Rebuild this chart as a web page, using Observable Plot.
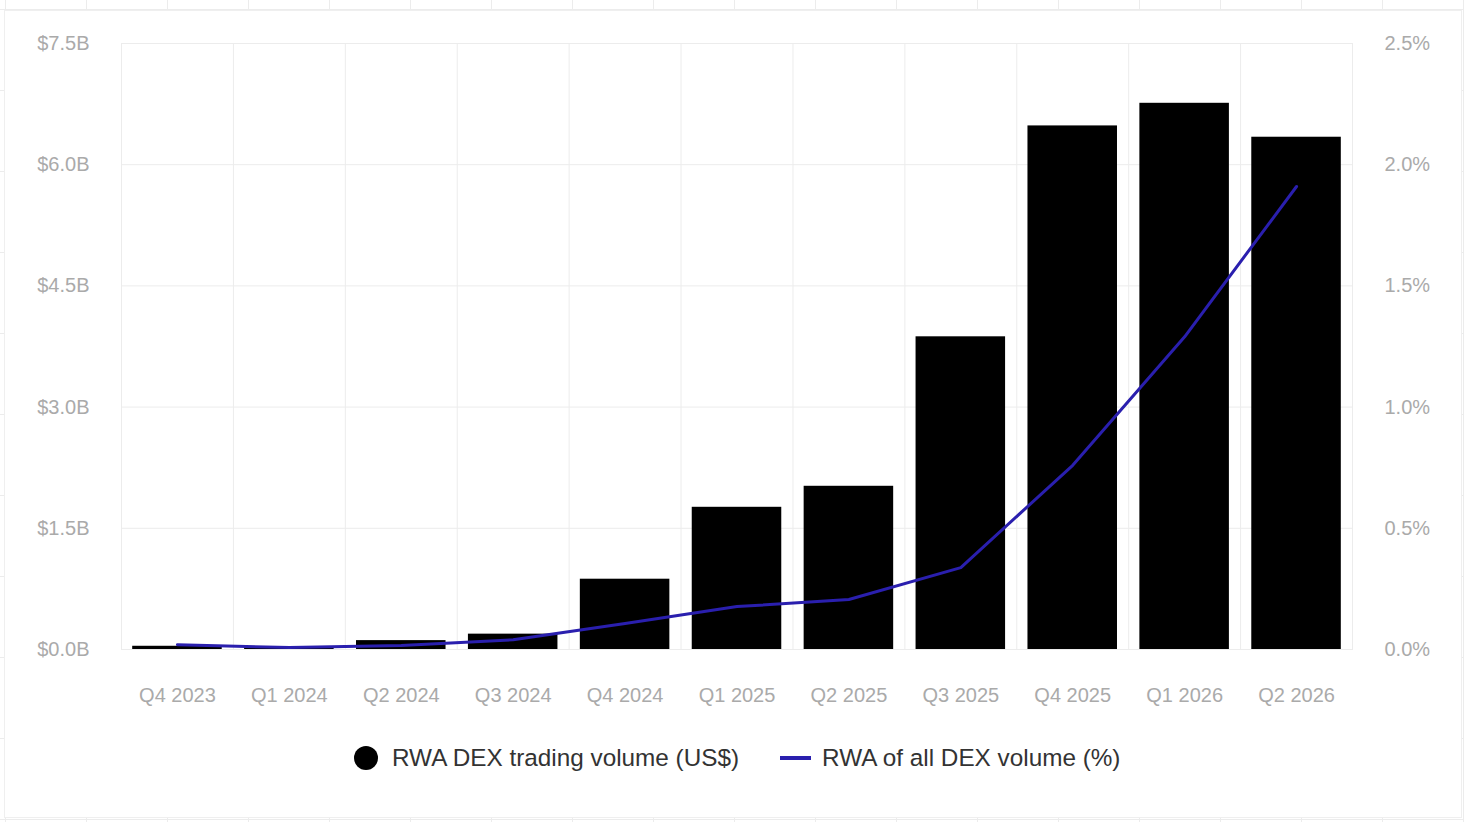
<!DOCTYPE html>
<html>
<head>
<meta charset="utf-8">
<script src="https://cdn.jsdelivr.net/npm/d3@7"></script>
<script src="https://cdn.jsdelivr.net/npm/@observablehq/plot@0.6"></script>
<style>
  html, body { margin: 0; padding: 0; }
  body {
    width: 1464px; height: 822px; position: relative; overflow: hidden;
    font-family: "Liberation Sans", Arial, Helvetica, sans-serif;
    background-color: #fff;
    background-image:
      linear-gradient(to right, #ececec 1px, transparent 1px),
      linear-gradient(to bottom, #ececec 1px, transparent 1px);
    background-size: 81px 81px;
    background-position: 5px 9px;
  }
  #card {
    position: absolute; left: 4px; top: 10px; width: 1458px; height: 808px;
    background: #fff; border: 1px solid #efefef; box-sizing: border-box;
  }
  #chart { position: absolute; left: 0; top: 0; }
  #legend {
    position: absolute; left: 354px; top: 741px; height: 34px;
    display: flex; align-items: center; font-size: 24.3px; color: #333;
    white-space: nowrap;
  }
  .dot { width: 24px; height: 24px; border-radius: 50%; background: #000; margin-right: 14px; }
  .dash { width: 31px; height: 4px; background: #2a1fae; margin-left: 41px; margin-right: 11px; }
</style>
</head>
<body>
<div id="card"></div>
<div id="chart"></div>
<div id="legend">
  <span class="dot"></span><span>RWA DEX trading volume (US$)</span>
  <span class="dash"></span><span>RWA of all DEX volume (%)</span>
</div>
<script>
const quarters = ["Q4 2023","Q1 2024","Q2 2024","Q3 2024","Q4 2024","Q1 2025","Q2 2025","Q3 2025","Q4 2025","Q1 2026","Q2 2026"];
const volumeB  = [0.04, 0.02, 0.11, 0.19, 0.87, 1.76, 2.02, 3.87, 6.48, 6.76, 6.34];
const sharePct = [0.02, 0.008, 0.016, 0.04, 0.107, 0.177, 0.206, 0.338, 0.76, 1.29, 1.91];
const leftTicks  = [0, 1.5, 3, 4.5, 6, 7.5];
const rightTicks = [0, 0.5, 1, 1.5, 2, 2.5];

const ratio = leftTicks[leftTicks.length - 1] / rightTicks[rightTicks.length - 1];
const rows = quarters.map((q, i) => ({q, vol: volumeB[i], pct: sharePct[i]}));

const W = 1464, H = 730, ML = 121, MR = 112, MT = 43, MB = H - 649;
const step = (W - ML - MR) / quarters.length;
const gridColor = "#ececec";
const tickColor = "#aaaaaa";

const chart = Plot.plot({
  width: W, height: H,
  marginLeft: ML, marginRight: MR, marginTop: MT, marginBottom: MB,
  style: {fontFamily: "'Liberation Sans', Arial, Helvetica, sans-serif", fontSize: "20px", background: "transparent", overflow: "visible"},
  x: {type: "band", domain: quarters, paddingInner: 0.2, paddingOuter: 0.1, round: false, axis: null},
  y: {domain: [0, 7.5], axis: null},
  marks: [
    Plot.gridY(leftTicks, {stroke: gridColor, strokeOpacity: 1}),
    Plot.ruleX(quarters.slice(1), {dx: -step / 2, stroke: gridColor, strokeOpacity: 1}),
    Plot.frame({stroke: gridColor, strokeOpacity: 1}),
    Plot.barY(rows, {x: "q", y: "vol", fill: "#000"}),
    Plot.line(rows, {x: "q", y: d => d.pct * ratio, stroke: "#2a1fae", strokeWidth: 3, curve: "linear"}),
    Plot.axisY(leftTicks, {anchor: "left", tickSize: 0, tickPadding: 32, tickFormat: d => `$${d.toFixed(1)}B`, color: tickColor, fontSize: 20, label: null}),
    Plot.axisY(rightTicks.map(d => d * ratio), {anchor: "right", tickSize: 0, tickPadding: 32, tickFormat: d => `${(d / ratio).toFixed(1)}%`, color: tickColor, fontSize: 20, label: null}),
    Plot.axisX(quarters, {anchor: "bottom", tickSize: 0, tickPadding: 38, color: tickColor, fontSize: 20, label: null})
  ]
});
document.getElementById("chart").appendChild(chart);
</script>
</body>
</html>
